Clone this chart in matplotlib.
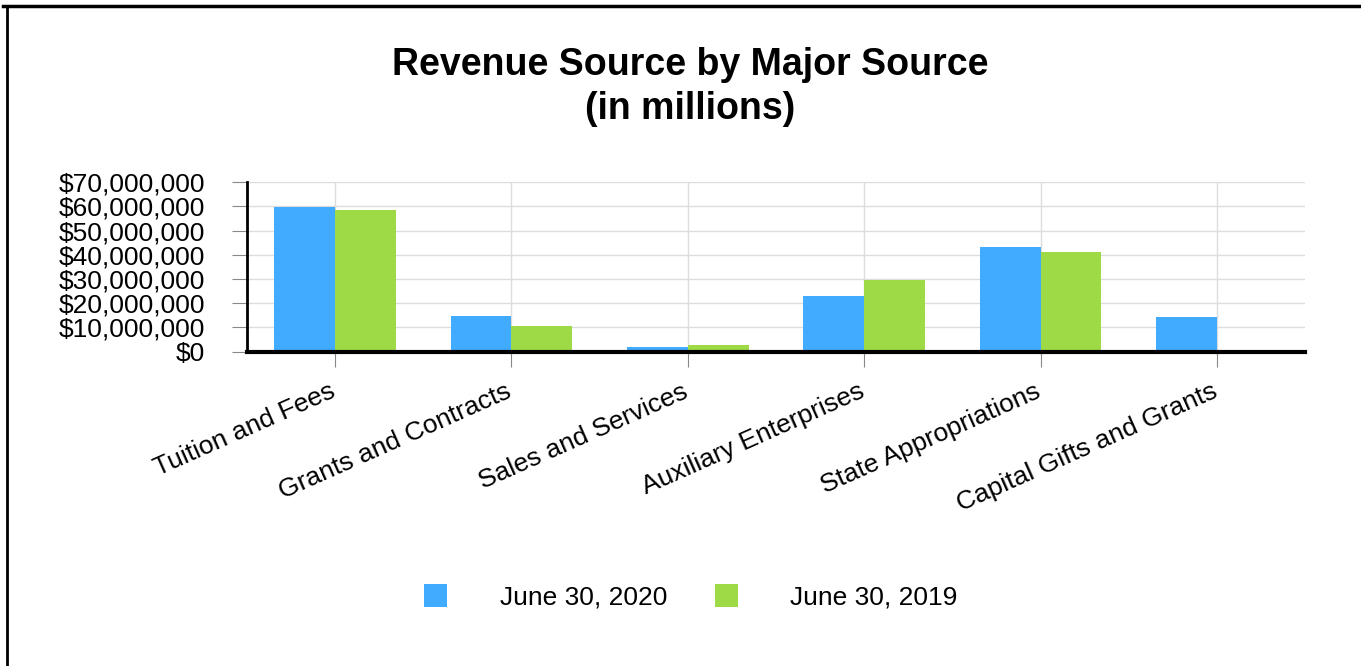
import numpy as np
import matplotlib.pyplot as plt
import matplotlib.transforms as mtransforms
from matplotlib.lines import Line2D
from matplotlib.ticker import FuncFormatter

plt.rcParams['font.family'] = ['Liberation Sans', 'DejaVu Sans']

categories = ['Tuition and Fees', 'Grants and Contracts', 'Sales and Services',
              'Auxiliary Enterprises', 'State Appropriations', 'Capital Gifts and Grants']
rev_2020 = [59.8e6, 14.5e6, 2.0e6, 22.9e6, 43.3e6, 14.3e6]
rev_2019 = [58.6e6, 10.7e6, 2.6e6, 29.5e6, 41.1e6, 0.0]
series_labels = ['June 30, 2020', 'June 30, 2019']

blue = '#41acff'
green = '#9dda46'

W, H = 1361, 666
fig = plt.figure(figsize=(W / 100, H / 100), dpi=100)
ax = fig.add_axes([247 / W, 1 - 351.5 / H, (1305 - 247) / W, (351.5 - 182.3) / H])

x = np.arange(len(categories))
w = 0.345
ax.bar(x - w / 2, rev_2020, width=w, color=blue, label=series_labels[0], zorder=2)
ax.bar(x + w / 2, rev_2019, width=w, color=green, label=series_labels[1], zorder=2)

ax.set_xlim(-0.5, len(categories) - 0.5)
ax.set_ylim(0, 70e6)
ax.set_yticks(np.arange(0, 70e6 + 1, 10e6))
ax.yaxis.set_major_formatter(FuncFormatter(lambda v, p: f"${v:,.0f}"))
ax.set_xticks(x)
ax.set_xticklabels(categories, rotation=24, ha='right', rotation_mode='anchor', fontsize=19)
ax.tick_params(axis='y', labelsize=19, length=11, color='#888888', pad=19)
ax.tick_params(axis='x', length=11, color='#888888', pad=9)

# nudge the rotated labels a little to the left
shift = mtransforms.ScaledTranslation(-6 / 100, 0, fig.dpi_scale_trans)
for lbl in ax.get_xticklabels():
    lbl.set_transform(lbl.get_transform() + shift)

ax.grid(True, color='#dddddd', linewidth=1, zorder=0)
ax.set_axisbelow(True)
for s in ['top', 'right']:
    ax.spines[s].set_visible(False)
ax.spines['left'].set_linewidth(2)
ax.spines['bottom'].set_linewidth(3)
ax.spines['bottom'].set_zorder(3)

fig.text(690 / W, 1 - 87 / H, 'Revenue Source by Major Source\n(in millions)',
         ha='center', va='center', fontsize=27, fontweight='bold', linespacing=1.28)

fig.legend(loc='center', bbox_to_anchor=(691 / W, 1 - 597 / H), ncol=2, frameon=False,
           fontsize=19, handlelength=0.87, handleheight=0.95, handletextpad=2.0,
           columnspacing=1.8)

# outer border (top and left only visible)
fig.add_artist(Line2D([3 / W, 1], [1 - 6 / H, 1 - 6 / H], color='black', linewidth=2.5,
                      transform=fig.transFigure))
fig.add_artist(Line2D([7 / W, 7 / W], [0, 1 - 6 / H], color='black', linewidth=2,
                      transform=fig.transFigure))

fig.savefig('out.png', dpi=100)
